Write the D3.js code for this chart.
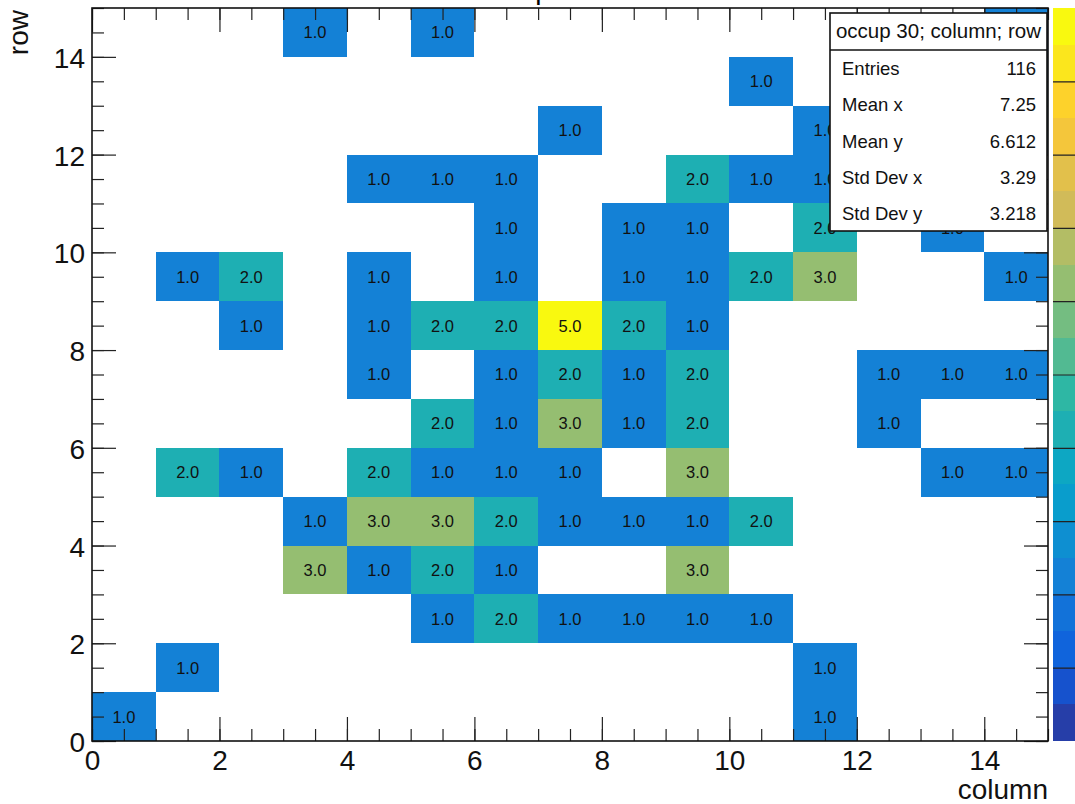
<!DOCTYPE html>
<html>
<head>
<meta charset="utf-8">
<script src="https://cdn.jsdelivr.net/npm/d3@7"></script>
<style>
  html, body { margin: 0; padding: 0; background: #fff; }
  svg { display: block; font-family: "Liberation Sans", Arial, Helvetica, sans-serif; }
</style>
</head>
<body>
<svg id="chart" width="1075" height="804"></svg>
<script>
// ---------------- data ----------------
const title = "occup 30";
const xTitle = "column";
const yTitle = "row";
const xBins = d3.range(0, 15);           // column bins 0..14
const yBins = d3.range(0, 15);           // row bins 0..14
// counts[row][column]
const counts = [
  [1,0,0,0,0,0,0,0,0,0,0,1,0,0,0],
  [0,1,0,0,0,0,0,0,0,0,0,1,0,0,0],
  [0,0,0,0,0,1,2,1,1,1,1,0,0,0,0],
  [0,0,0,3,1,2,1,0,0,3,0,0,0,0,0],
  [0,0,0,1,3,3,2,1,1,1,2,0,0,0,0],
  [0,2,1,0,2,1,1,1,0,3,0,0,0,1,1],
  [0,0,0,0,0,2,1,3,1,2,0,0,1,0,0],
  [0,0,0,0,1,0,1,2,1,2,0,0,1,1,1],
  [0,0,1,0,1,2,2,5,2,1,0,0,0,0,0],
  [0,1,2,0,1,0,1,0,1,1,2,3,0,0,1],
  [0,0,0,0,0,0,1,0,1,1,0,2,0,1,0],
  [0,0,0,0,1,1,1,0,0,2,1,1,0,0,0],
  [0,0,0,0,0,0,0,1,0,0,0,1,0,0,1],
  [0,0,0,0,0,0,0,0,0,0,1,0,0,0,1],
  [0,0,0,1,0,1,0,0,0,0,0,0,0,0,1]
];
const xMajorTicks = [0, 2, 4, 6, 8, 10, 12, 14];
const yMajorTicks = [0, 2, 4, 6, 8, 10, 12, 14];
const minorTicks = d3.range(0, 15.01, 0.5);
const zTicks = [0.5, 1, 1.5, 2, 2.5, 3, 3.5, 4, 4.5];
const zDomain = [0, 5];
const nContours = 20;
const statsTitle = "occup 30; column; row";
const statsLabels = ["Entries", "Mean x", "Mean y", "Std Dev x", "Std Dev y"];
const statsValues = ["116", "7.25", "6.612", "3.29", "3.218"];

// ---------------- kBird palette ----------------
function birdPalette(n) {
  const stops = [0.0, 0.125, 0.25, 0.375, 0.5, 0.625, 0.75, 0.875, 1.0];
  const r = [0.2082, 0.0592, 0.0780, 0.0232, 0.1802, 0.5301, 0.8186, 0.9956, 0.9764];
  const g = [0.1664, 0.3599, 0.5041, 0.6419, 0.7178, 0.7492, 0.7328, 0.7862, 0.9832];
  const b = [0.5293, 0.8684, 0.8385, 0.7914, 0.6425, 0.4662, 0.3499, 0.1968, 0.0539];
  const cols = [];
  for (let s = 1; s < stops.length; s++) {
    const nc = Math.floor(n * stops[s]) - Math.floor(n * stops[s - 1]);
    for (let c = 0; c < nc; c++) {
      const rr = r[s - 1] + c * (r[s] - r[s - 1]) / nc;
      const gg = g[s - 1] + c * (g[s] - g[s - 1]) / nc;
      const bb = b[s - 1] + c * (b[s] - b[s - 1]) / nc;
      cols.push(d3.rgb(rr * 255, gg * 255, bb * 255).formatHex());
    }
  }
  return cols;
}
const palette = birdPalette(255);
function bandColor(i) {
  return palette[Math.floor((i + 0.99) * palette.length / nContours)];
}
function zBand(z) {
  let c = Math.floor(0.01 + (z - zDomain[0]) * nContours / (zDomain[1] - zDomain[0]));
  if (c >= nContours) c = nContours - 1;
  return c;
}

// ---------------- layout ----------------
const svg = d3.select("#chart");
const W = 1075, H = 804;
const frame = { left: 92, right: 1048, top: 8, bottom: 741 };
const x = d3.scaleLinear().domain([0, 15]).range([frame.left, frame.right]);
const y = d3.scaleLinear().domain([0, 15]).range([frame.bottom, frame.top]);
const z = d3.scaleLinear().domain(zDomain).range([frame.bottom, frame.top]);
const sb = { x0: 830, x1: 1047, y0: 13, y1: 231, sep: 50 };

svg.append("rect").attr("width", W).attr("height", H).attr("fill", "#fff");

// title (mostly above the visible area)
svg.append("text")
  .attr("x", 533).attr("y", -1)
  .attr("text-anchor", "middle")
  .attr("font-size", 28)
  .attr("fill", "#000")
  .text(title);

// cells
const cells = [];
yBins.forEach(j => xBins.forEach(i => {
  const v = counts[j][i];
  if (v > 0) cells.push({ i, j, v });
}));

svg.append("g").selectAll("rect").data(cells).join("rect")
  .attr("x", d => x(d.i))
  .attr("y", d => y(d.j + 1))
  .attr("width", d => x(d.i + 1) - x(d.i))
  .attr("height", d => y(d.j) - y(d.j + 1))
  .attr("fill", d => bandColor(zBand(d.v)))
  .attr("shape-rendering", "crispEdges");

// cell labels (those completely hidden by the stats box are not drawn)
const hiddenByStats = d => x(d.i + 0.5) - 13 > sb.x0 && y(d.j + 0.5) + 7 < sb.y1;
svg.append("g").selectAll("text").data(cells.filter(d => !hiddenByStats(d))).join("text")
  .attr("x", d => x(d.i + 0.5))
  .attr("y", d => y(d.j + 0.5))
  .attr("dy", "0.36em")
  .attr("text-anchor", "middle")
  .attr("font-size", 16.5)
  .attr("fill", "#111")
  .text(d => d.v.toFixed(1));

// axes
const tickColor = "#222";
function styleAxis(g) {
  g.selectAll("line").attr("stroke", tickColor).attr("stroke-width", 1.2);
  g.selectAll("path").remove();
}
// bottom
const gxMinor = svg.append("g").attr("transform", `translate(0,${frame.bottom})`)
  .call(d3.axisBottom(x).tickValues(minorTicks).tickSize(-12).tickFormat(""));
styleAxis(gxMinor);
const gxMajor = svg.append("g").attr("transform", `translate(0,${frame.bottom})`)
  .call(d3.axisBottom(x).tickValues(xMajorTicks).tickSize(-24).tickPadding(9).tickFormat(d3.format("d")));
styleAxis(gxMajor);
gxMajor.selectAll("text").attr("font-size", 28).attr("fill", "#111")
  .attr("font-family", "Liberation Sans, Arial, sans-serif");
// top
const gtMinor = svg.append("g").attr("transform", `translate(0,${frame.top})`)
  .call(d3.axisTop(x).tickValues(minorTicks).tickSize(-12).tickFormat(""));
styleAxis(gtMinor);
const gtMajor = svg.append("g").attr("transform", `translate(0,${frame.top})`)
  .call(d3.axisTop(x).tickValues(xMajorTicks).tickSize(-24).tickFormat(""));
styleAxis(gtMajor);
// left
const gyMinor = svg.append("g").attr("transform", `translate(${frame.left},0)`)
  .call(d3.axisLeft(y).tickValues(minorTicks).tickSize(-12).tickFormat(""));
styleAxis(gyMinor);
const gyMajor = svg.append("g").attr("transform", `translate(${frame.left},0)`)
  .call(d3.axisLeft(y).tickValues(yMajorTicks).tickSize(-24).tickPadding(7).tickFormat(d3.format("d")));
styleAxis(gyMajor);
gyMajor.selectAll("text").attr("font-size", 28).attr("fill", "#111").attr("dy", "0.38em")
  .attr("font-family", "Liberation Sans, Arial, sans-serif");
// right
const grMinor = svg.append("g").attr("transform", `translate(${frame.right},0)`)
  .call(d3.axisRight(y).tickValues(minorTicks).tickSize(-12).tickFormat(""));
styleAxis(grMinor);
const grMajor = svg.append("g").attr("transform", `translate(${frame.right},0)`)
  .call(d3.axisRight(y).tickValues(yMajorTicks).tickSize(-24).tickFormat(""));
styleAxis(grMajor);

// frame
svg.append("rect")
  .attr("x", frame.left).attr("y", frame.top)
  .attr("width", frame.right - frame.left).attr("height", frame.bottom - frame.top)
  .attr("fill", "none").attr("stroke", "#111").attr("stroke-width", 1.6);

// axis titles
svg.append("text")
  .attr("x", frame.right).attr("y", 799)
  .attr("text-anchor", "end").attr("font-size", 28).attr("fill", "#111")
  .text(xTitle);
svg.append("text")
  .attr("transform", `translate(28,${frame.top + 2}) rotate(-90)`)
  .attr("text-anchor", "end").attr("font-size", 28).attr("fill", "#111")
  .text(yTitle);

// palette
const palX = 1053, palW = 40;
const bands = d3.range(nContours);
const bandH = (zDomain[1] - zDomain[0]) / nContours;
svg.append("g").selectAll("rect").data(bands).join("rect")
  .attr("x", palX)
  .attr("y", d => z(zDomain[0] + (d + 1) * bandH))
  .attr("width", palW)
  .attr("height", d => z(zDomain[0] + d * bandH) - z(zDomain[0] + (d + 1) * bandH))
  .attr("fill", d => bandColor(d))
  .attr("shape-rendering", "crispEdges");
const gz = svg.append("g").attr("transform", `translate(${palX + palW},0)`)
  .call(d3.axisRight(z).tickValues(zTicks).tickSize(-palW).tickFormat(""));
styleAxis(gz);

// stats box
const sg = svg.append("g");
sg.append("rect")
  .attr("x", sb.x0).attr("y", sb.y0)
  .attr("width", sb.x1 - sb.x0).attr("height", sb.y1 - sb.y0)
  .attr("fill", "#fff").attr("stroke", "#111").attr("stroke-width", 1.6);
sg.append("line")
  .attr("x1", sb.x0).attr("x2", sb.x1).attr("y1", sb.sep).attr("y2", sb.sep)
  .attr("stroke", "#111").attr("stroke-width", 1.4);
sg.append("text")
  .attr("x", (sb.x0 + sb.x1) / 2).attr("y", 38)
  .attr("text-anchor", "middle").attr("font-size", 20.5).attr("fill", "#111")
  .text(statsTitle);
const rowY = d3.scalePoint().domain(statsLabels).range([75, 220]);
sg.selectAll("text.lab").data(statsLabels).join("text").attr("class", "lab")
  .attr("x", 842).attr("y", d => rowY(d))
  .attr("font-size", 18.5).attr("fill", "#111")
  .text(d => d);
sg.selectAll("text.val").data(statsValues).join("text").attr("class", "val")
  .attr("x", 1036).attr("y", (d, k) => rowY(statsLabels[k]))
  .attr("text-anchor", "end")
  .attr("font-size", 18.5).attr("fill", "#111")
  .text(d => d);
</script>
</body>
</html>
